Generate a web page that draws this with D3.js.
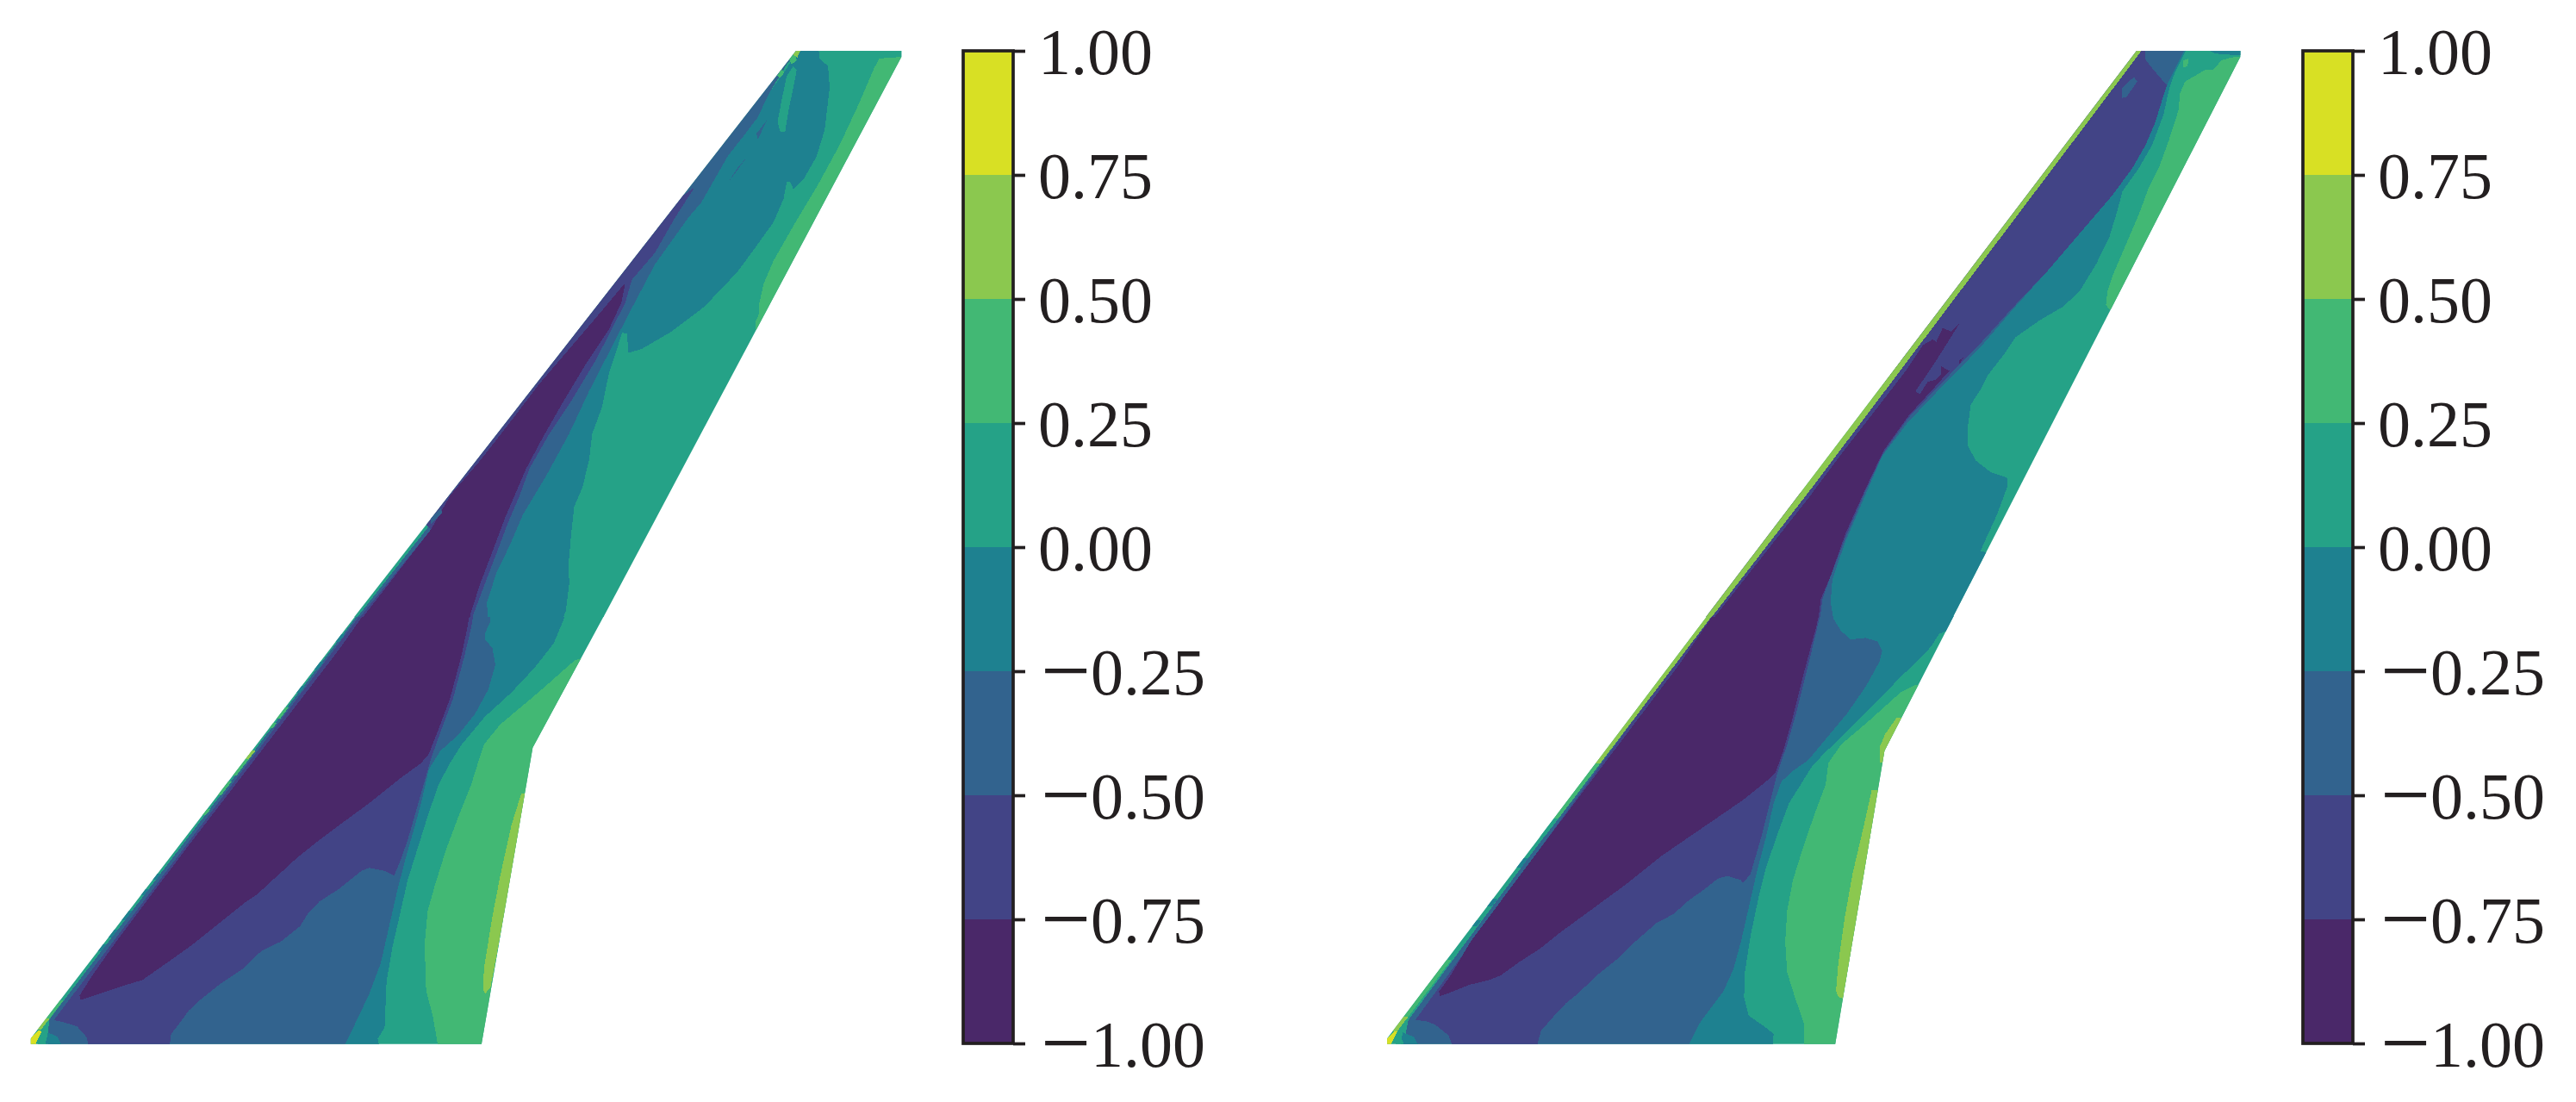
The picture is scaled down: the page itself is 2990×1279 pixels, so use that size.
<!DOCTYPE html>
<html><head><meta charset="utf-8">
<script src="https://cdn.jsdelivr.net/npm/d3@7/dist/d3.min.js"></script>
<style>html,body{margin:0;padding:0;background:#fff}svg{display:block}</style>
</head><body><svg id="c" width="2990" height="1279"></svg>
<script>
// band colours, lowest band first, and the colourbar levels
const bandColors = ["#4a2869","#424486","#32638e","#1e8190","#25a287","#42b874","#8bc84f","#d8e024"];
const levels = [-1,-0.75,-0.5,-0.25,0,0.25,0.5,0.75,1];
const tickLabels = ["\u22121.00","\u22120.75","\u22120.50","\u22120.25","0.00","0.25","0.50","0.75","1.00"];

// contours are [band, points], painted in order. "Root" = inboard wing, "Tip" = outboard wing.
const leftRootOutline = [[80,1415],[80,1433],[1252,1433],[1385,470],[1570,42],[924,42]];
const leftTipOutline = [[1108,65],[1428,65],[1428,80],[524,1536.64],[-232,1536.64]];
const rightRootOutline = [[45,1415],[45,1433],[1210,1433],[1338,480],[1518,42],[877,42]];
const rightTipOutline = [[993,65],[1308,65],[1308,80],[436,1536.64],[-313,1536.64]];

const leftRoot = [
 [4,[[0,-20],[1600,-20],[1600,1450],[0,1450]]],
 [5,[[1138,1450],[1138,1433],[1125,1340],[1108,1260],[1104,1110],[1112,1000],[1130,920],[1160,800],[1190,700],[1225,590],[1250,490],[1258,460],[1300,395],[1400,290],[1495,185],[1510,180],[1530,180],[1400,470],[1262,1450]]],
 [6,[[1355,620],[1370,620],[1275,1250],[1262,1268],[1257,1260],[1258,1190],[1280,1020],[1300,890],[1330,720]]],
 [3,[[1475,-10],[1470,40],[1440,130],[1390,210],[1330,290],[1260,370],[1200,460],[1170,520],[1140,590],[1110,700],[1085,800],[1060,900],[1040,1010],[1020,1120],[1005,1230],[1000,1380],[982,1415],[988,1450],[897,1450],[897,1433],[930,1350],[960,1270],[990,1170],[1010,1060],[1030,950],[1050,850],[1075,740],[1095,650],[1115,540],[1145,480],[1190,430],[1235,360],[1270,280],[1288,200],[1280,145],[1262,120],[1262,95],[1275,60],[1268,-10]]],
 [2,[[1268,-10],[1275,60],[1262,95],[1262,120],[1280,145],[1288,200],[1270,280],[1235,360],[1190,430],[1145,480],[1115,540],[1095,650],[1075,740],[1050,850],[1030,950],[1010,1060],[990,1170],[960,1270],[930,1350],[897,1433],[897,1450],[125,1450],[127,1355],[960,-10]]],
 [1,[[966,-10],[1237,-10],[1225,80],[1208,170],[1178,310],[1148,410],[1122,500],[1090,640],[1060,770],[1040,840],[1025,885],[1000,870],[960,860],[940,870],[910,900],[880,930],[830,970],[800,1010],[780,1050],[730,1100],[680,1130],[630,1190],[570,1240],[520,1290],[490,1325],[470,1360],[445,1400],[440,1450],[232,1450],[225,1410],[200,1375],[165,1362],[140,1355]]],
 [0,[[972,-10],[1228,-10],[1215,80],[1200,170],[1170,310],[1140,410],[1115,490],[1095,520],[1040,570],[960,650],[900,705],[830,770],[770,830],[740,865],[700,910],[670,945],[640,970],[590,1020],[540,1070],[500,1110],[450,1155],[410,1190],[370,1225],[330,1240],[280,1260],[210,1290],[207,1275],[240,1210],[302,1100],[395,945],[495,780],[606,600],[698,450],[790,300],[882,150]]],
 [3,[[125,1395],[150,1410],[165,1450],[115,1450]]],
 [4,[[105,1405],[130,1450],[95,1450]]]
];
// band, start and end of a stretch of the leading-edge strip
const leftEdgeBands = [5,6,5,5,3,3,3,5,5,6,5,6,3,3,3,3,3,3];
const leftEdgeFrom = [340,480,505,580,20,100,190,390,670,480,1290,1350,1000,1060,1110,880,930,270];
const leftEdgeTo = [375,506,560,625,45,125,215,405,690,506,1350,1385,1030,1085,1130,900,950,290];
const leftTipCorner = [[7,[[80,1415],[100,1388],[108,1392],[95,1425],[88,1450],[70,1450]]]];

const leftTip = [
 [4,[[-400,0],[1500,0],[1500,1600],[-400,1600]]],
 [5,[[1440,80],[1360,85],[1345,110],[1300,200],[1240,310],[1170,420],[1100,520],[1040,610],[1010,670],[997,720],[995,750],[985,770],[985,790],[1010,800]]],
 [2,[[1122,65],[1080,100],[1030,170],[990,240],[950,285],[900,340],[820,460],[780,500],[680,620],[600,750],[540,850],[480,950],[420,1060],[350,1170],[280,1270],[240,1350],[200,1420],[170,1500],[180,1568],[180,1600],[-280,1600],[-220,1534],[-5,1300],[0,1280],[1090,60]]],
 [3,[[1175,50],[1180,85],[1205,105],[1210,160],[1195,270],[1170,340],[1130,400],[1100,425],[1090,405],[1080,405],[1070,450],[1040,510],[990,570],[930,640],[830,730],[730,795],[640,840],[600,850],[595,800],[580,798],[565,840],[540,905],[520,990],[490,1060],[480,1130],[460,1200],[435,1250],[425,1330],[418,1400],[420,1450],[410,1520],[390,1568],[390,1600],[180,1600],[170,1500],[200,1420],[240,1350],[280,1270],[350,1170],[420,1060],[480,950],[540,850],[600,750],[680,620],[780,500],[820,460],[900,340],[950,285],[990,240],[1030,170],[1080,110],[1122,50]]],
 [4,[[1100,105],[1110,115],[1100,160],[1085,220],[1075,275],[1060,275],[1052,250],[1065,190],[1080,130]]],
 [2,[[1020,245],[992,295],[988,280]]],
 [2,[[960,340],[900,410],[930,370]]],
 [1,[[800,420],[740,500],[680,590],[610,660],[590,720],[560,770],[500,870],[430,970],[360,1060],[300,1150],[270,1220],[235,1290],[200,1370],[160,1460],[125,1540],[118,1600],[-272,1600],[-212,1534],[0,1310],[-20,1290],[700,480]]],
 [0,[[590,668],[500,760],[420,840],[330,930],[250,1020],[150,1130],[60,1220],[0,1310],[-203,1534],[-263,1600],[110,1600],[120,1530],[150,1450],[190,1360],[225,1280],[260,1210],[290,1150],[340,1070],[400,980],[470,880],[540,790],[578,720]]],
 [5,[[1085,85],[1105,65],[1110,90],[1095,100]]],
 [6,[[1100,75],[1108,62],[1122,62],[1112,82]]],
 [5,[[1050,130],[1065,113],[1072,122],[1060,135]]],
 [2,[[0,1280],[30,1255],[35,1265],[0,1295]]]
];

const rightRoot = [
 [4,[[0,-20],[1600,-20],[1600,1450],[0,1450]]],
 [5,[[1130,1450],[1130,1370],[1105,1280],[1085,1200],[1080,1100],[1085,1000],[1100,900],[1125,800],[1155,690],[1185,590],[1192,520],[1225,460],[1300,380],[1380,290],[1420,265],[1440,265],[1350,480],[1225,1450]]],
 [6,[[1305,608],[1325,608],[1230,1285],[1218,1280],[1212,1260],[1218,1170],[1235,1020],[1255,880],[1285,720]]],
 [6,[[1370,372],[1395,372],[1345,480],[1335,518],[1325,518],[1325,470],[1340,425]]],
 [3,[[1600,90],[1500,90],[1480,100],[1460,140],[1430,180],[1380,240],[1310,330],[1230,430],[1180,490],[1150,530],[1120,590],[1090,650],[1060,750],[1030,860],[1010,960],[990,1080],[975,1200],[973,1280],[985,1340],[1030,1380],[1050,1400],[1046,1450],[830,1450],[830,1433],[860,1360],[920,1260],[945,1190],[965,1100],[985,990],[1005,880],[1030,760],[1050,650],[1070,580],[1100,545],[1140,510],[1180,450],[1240,360],[1290,270],[1325,190],[1332,155],[1320,125],[1290,113],[1250,118],[1225,90],[1205,50],[1198,-20],[1600,-20]]],
 [2,[[1198,-20],[1205,50],[1225,90],[1250,118],[1290,113],[1320,125],[1332,155],[1325,190],[1290,270],[1240,360],[1180,450],[1140,510],[1100,545],[1070,580],[1050,650],[1030,760],[1005,880],[985,990],[965,1100],[945,1190],[920,1260],[860,1360],[830,1433],[830,1450],[85,1450],[100,1355],[915,-20]]],
 [1,[[918,-20],[1182,-20],[1165,70],[1140,200],[1110,350],[1085,460],[1060,550],[1040,650],[1020,750],[990,880],[970,910],[965,900],[930,887],[905,895],[870,930],[830,965],[790,1010],[745,1040],[690,1100],[640,1160],[590,1210],[540,1270],[510,1300],[480,1340],[445,1390],[432,1450],[218,1450],[205,1405],[170,1370],[145,1358],[118,1355]]],
 [0,[[925,-20],[1178,-20],[1160,80],[1130,220],[1100,370],[1075,480],[1055,550],[1030,580],[970,640],[900,700],[830,760],[760,820],[700,880],[665,915],[610,965],[550,1020],[490,1075],[440,1125],[390,1165],[340,1210],[310,1225],[260,1240],[200,1270],[182,1277],[180,1262],[210,1210],[262,1100],[423,830],[562,600],[683,400],[804,200]]],
 [3,[[85,1395],[115,1410],[132,1450],[80,1450]]],
 [4,[[75,1395],[95,1450],[65,1450]]]
];
const rightEdgeBands = [6,5,5,4,3,3,3,5,6];
const rightEdgeFrom = [-20,520,600,700,830,960,1030,1160,1345];
const rightEdgeTo = [520,600,700,760,860,985,1050,1350,1392];
const rightTipCorner = [[7,[[45,1415],[65,1390],[72,1392],[58,1425],[52,1450],[38,1450]]]];

const rightTip = [
 [4,[[-500,0],[1400,0],[1400,1600],[-500,1600]]],
 [5,[[1330,80],[1280,82],[1250,90],[1225,115],[1200,115],[1180,125],[1140,145],[1125,175],[1120,220],[1090,300],[1060,370],[1030,420],[1000,490],[960,570],[920,650],[905,690],[900,725],[910,738],[925,738]]],
 [5,[[1135,90],[1150,85],[1148,105],[1135,108]]],
 [3,[[1185,50],[1320,50],[1320,78],[1230,72]]],
 [3,[[1150,50],[1130,85],[1105,130],[1090,170],[1075,230],[1040,310],[1000,370],[950,430],[935,480],[910,550],[870,620],[820,690],[770,730],[700,765],[625,810],[590,855],[540,910],[520,945],[490,985],[480,1050],[480,1090],[505,1130],[550,1160],[600,1175],[600,1200],[570,1270],[530,1345],[520,1365],[540,1370],[400,1600],[85,1600],[65,1500],[70,1440],[110,1340],[170,1220],[220,1120],[300,1030],[400,940],[520,835],[620,735],[720,640],[840,520],[920,440],[980,370],[1020,310],[1050,250],[1075,180],[1085,155],[1115,100],[1145,50]]],
 [2,[[85,1600],[65,1500],[70,1440],[110,1340],[170,1220],[220,1120],[300,1030],[400,940],[520,835],[620,735],[720,640],[-100,1300],[-100,1600]]],
 [1,[[990,50],[1145,50],[1085,155],[1075,180],[1050,250],[1020,310],[980,370],[920,440],[840,520],[720,640],[620,730],[520,825],[400,930],[300,1020],[225,1110],[170,1210],[110,1330],[65,1430],[40,1490],[25,1600],[-350,1600],[-350,1500],[0,1190]]],
 [2,[[1018,50],[1145,50],[1085,155],[1040,110],[1018,85]]],
 [2,[[950,160],[985,133],[995,145],[962,185],[948,188]]],
 [0,[[0,1225],[100,1110],[200,1000],[290,900],[345,830],[375,815],[385,822],[405,785],[430,795],[457,772],[400,850],[370,890],[322,950],[335,958],[360,925],[385,920],[400,905],[400,885],[425,897],[380,940],[300,1015],[225,1105],[170,1205],[110,1320],[65,1430],[35,1490],[20,1600],[-345,1600]]],
 [0,[[455,870],[468,862],[455,880]]],
 [6,[[985,50],[1008,50],[1005,68],[0,1210],[-330,1575],[-400,1575]]]
];

const svg = d3.select("#c");
const cropW = 1568;
const line = d3.line();

function drawPanel(id, o) {
  const xR = d3.scaleLinear([0,cropW],[o.rootX,o.rootX+700]);
  const yR = d3.scaleLinear([0,cropW],[700,1260]);
  const xT = d3.scaleLinear([0,cropW],[o.tipX,o.tipX+600]);
  const yT = d3.scaleLinear([0,cropW],[30,730]);
  const toRoot = pts => line(pts.map(p => [xR(p[0]),yR(p[1])])) + "Z";
  const toTip = pts => line(pts.map(p => [xT(p[0]),yT(p[1])])) + "Z";
  const defs = svg.append("defs");
  defs.append("clipPath").attr("id",id+"r").append("path").attr("d",toRoot(o.rootOutline)).attr("shape-rendering","crispEdges");
  defs.append("clipPath").attr("id",id+"t").append("path").attr("d",toTip(o.tipOutline)).attr("shape-rendering","crispEdges");

  const gR = svg.append("g").attr("clip-path",`url(#${id}r)`).attr("shape-rendering","crispEdges");
  gR.selectAll("path.c").data(o.root).join("path").attr("class","c")
    .attr("fill",d=>bandColors[d[0]]).attr("d",d=>toRoot(d[1]));
  const leX = d3.scaleLinear([o.leY0,o.leY1],[o.leX0,o.leX1]);
  gR.selectAll("path.e").data(o.edgeBands).join("path").attr("class","e")
    .attr("fill",d=>bandColors[d])
    .attr("d",(d,i)=>{const a=o.edgeFrom[i],b=o.edgeTo[i];
      return toRoot([[leX(a)-6,a],[leX(b)-6,b],[leX(b)+o.edgeW,b],[leX(a)+o.edgeW,a]]);});
  gR.selectAll("path.k").data(o.corner).join("path").attr("class","k")
    .attr("fill",d=>bandColors[d[0]]).attr("d",d=>toRoot(d[1]));

  const gT = svg.append("g").attr("clip-path",`url(#${id}t)`).attr("shape-rendering","crispEdges");
  gT.selectAll("path").data(o.tip).join("path")
    .attr("fill",d=>bandColors[d[0]]).attr("d",d=>toTip(d[1]));

  // colourbar
  const y = d3.scaleLinear([-1,1],[1211,59]);
  const cb = svg.append("g");
  cb.selectAll("rect").data(d3.range(levels.length-1)).join("rect")
    .attr("x",o.barX).attr("width",o.barW)
    .attr("y",i=>y(levels[i+1])).attr("height",i=>y(levels[i])-y(levels[i+1]))
    .attr("fill",i=>bandColors[i]).attr("shape-rendering","crispEdges");
  cb.append("rect").attr("x",o.barX).attr("y",y(1)).attr("width",o.barW).attr("height",y(-1)-y(1))
    .attr("fill","none").attr("stroke","#231f20").attr("stroke-width",3.7);
  const ax = d3.axisRight(y).tickValues(levels).tickSize(14).tickSizeOuter(0).tickFormat(()=> "");
  const a = cb.append("g").attr("transform",`translate(${o.barX+o.barW},0)`).call(ax);
  a.select(".domain").remove();
  a.selectAll(".tick line").attr("stroke","#231f20").attr("stroke-width",3.7);
  a.selectAll(".tick text").remove();
  const fs = 76;
  const labels = cb.selectAll("text.lab").data(levels).join("text").attr("class","lab")
    .attr("font-family","'Liberation Serif'").attr("font-size",fs).attr("fill","#231f20")
    .attr("x",o.barX+o.barW+29).attr("y",d=>y(d)+27);
  labels.each(function(d,i){
    const t = d3.select(this), s = tickLabels[i];
    if (s[0]==="\u2212") {
      t.append("tspan").attr("font-size",103).attr("dx",3).attr("dy",7).text(s[0]);
      t.append("tspan").attr("font-size",fs).attr("dy",-7).text(s.slice(1));
    } else {
      t.append("tspan").text(s);
    }
  });
}

drawPanel("L",{rootX:0,tipX:500,rootOutline:leftRootOutline,tipOutline:leftTipOutline,root:leftRoot,tip:leftTip,
  edgeBands:leftEdgeBands,edgeFrom:leftEdgeFrom,edgeTo:leftEdgeTo,corner:leftTipCorner,
  leY0:1415,leY1:0,leX0:80,leX1:950,edgeW:9,barX:1118,barW:58});
drawPanel("R",{rootX:1590,tipX:2100,rootOutline:rightRootOutline,tipOutline:rightTipOutline,root:rightRoot,tip:rightTip,
  edgeBands:rightEdgeBands,edgeFrom:rightEdgeFrom,edgeTo:rightEdgeTo,corner:rightTipCorner,
  leY0:1415,leY1:0,leX0:45,leX1:903,edgeW:12,barX:2673,barW:58});
</script></body></html>
